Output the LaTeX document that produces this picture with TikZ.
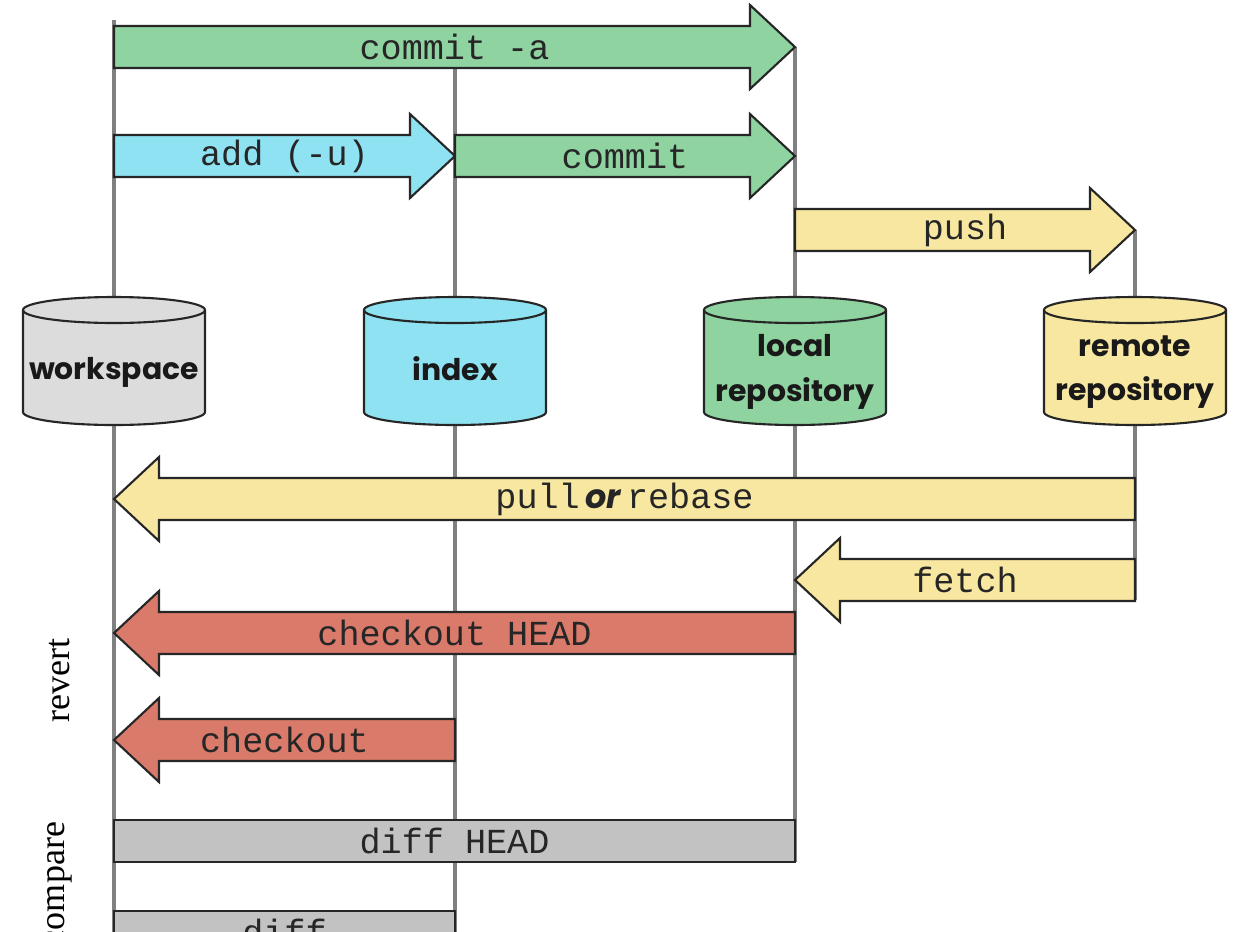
\documentclass[tikz,border=0pt]{standalone}
\usepackage{fontspec}
\setmainfont{Liberation Serif}
\setsansfont{Poppins}
\setmonofont{Liberation Mono}
\definecolor{cgreen}{HTML}{8ED3A0}
\definecolor{ccyan}{HTML}{8FE2F2}
\definecolor{cyellow}{HTML}{F8E7A0}
\definecolor{cred}{HTML}{D97A6A}
\definecolor{cgray}{HTML}{C2C2C2}
\definecolor{cws}{HTML}{DCDCDC}
\definecolor{cline}{HTML}{808080}
\tikzset{
  vline/.style={draw=cline, line width=4.5*0.02cm},
  arrowline/.style={draw=black!85, line width=1.2pt, line join=miter},
  lbl/.style={font=\fontsize{20}{24}\selectfont\ttfamily, text=black!85, inner sep=0pt},
  cyl/.style={draw=black!85, line width=1.2pt},
  cyllbl/.style={font=\fontsize{17}{25.5}\selectfont\sffamily\bfseries, text=black!90, align=center, inner sep=0pt},
  side/.style={font=\fontsize{20.5}{24}\selectfont\rmfamily, rotate=90, inner sep=0pt}
}
% right-pointing arrow: name, x start, x tip, y, fill, text
\newcommand{\arrowR}[6]{%
  \filldraw[arrowline, fill=#5] (#2,#4-21) -- (#3-45,#4-21) -- (#3-45,#4-42) -- (#3,#4)
     -- (#3-45,#4+42) -- (#3-45,#4+21) -- (#2,#4+21) -- cycle;
  \node[lbl] (#1) at ({(#2+#3)/2},#4) {#6};}
% left-pointing arrow: name, x tip, x end, y, fill, text
\newcommand{\arrowL}[6]{%
  \filldraw[arrowline, fill=#5] (#3,#4-21) -- (#2+45,#4-21) -- (#2+45,#4-42) -- (#2,#4)
     -- (#2+45,#4+42) -- (#2+45,#4+21) -- (#3,#4+21) -- cycle;
  \node[lbl] (#1) at ({(#2+#3)/2},#4) {#6};}
% cylinder: center x, fill
\newcommand{\cylshape}[2]{%
  \filldraw[cyl, fill=#2] (#1-91,310) -- (#1-91,412)
     arc[start angle=180, end angle=0, x radius=91, y radius=13]
     -- (#1+91,310)
     arc[start angle=0, end angle=-180, x radius=91, y radius=13] -- cycle;
  \draw[cyl] (#1-91,310) arc[start angle=180, end angle=0, x radius=91, y radius=13];}
\begin{document}
\begin{tikzpicture}[x=0.02cm, y=-0.02cm]
\useasboundingbox (0,0) rectangle (1248,931);
\fill[white] (0,0) rectangle (1248,931);
% lane coordinates
\coordinate (wsTop) at (114,20);   \coordinate (wsBot) at (114,940);
\coordinate (idxTop) at (455,60);  \coordinate (idxBot) at (455,940);
\coordinate (locTop) at (795,47);  \coordinate (locBot) at (795,862);
\coordinate (remTop) at (1135,230);\coordinate (remBot) at (1135,600);
\draw[vline] (wsTop) -- (wsBot);
\draw[vline] (idxTop) -- (idxBot);
\draw[vline] (locTop) -- (locBot);
\draw[vline] (remTop) -- (remBot);
% cylinders
\cylshape{114}{cws}
\cylshape{455}{ccyan}
\cylshape{795}{cgreen}
\cylshape{1135}{cyellow}
\node[cyllbl] (ws) at (114,372) {workspace};
\node[cyllbl] (idx) at (455,369) {index};
\node[cyllbl] (loc) at (795,372) {local\\repository};
\node[cyllbl] (rem) at (1135,372) {remote\\repository};
% arrows
\arrowR{commita}{114}{795}{47}{cgreen}{commit -a}
\arrowR{add}{114}{455}{156}{ccyan}{add (-u)}
\arrowR{commit}{455}{795}{156}{cgreen}{commit}
\arrowR{push}{795}{1135}{230}{cyellow}{push}
\arrowL{pull}{114}{1135}{499}{cyellow}{pull\,{\fontsize{19}{24}\sffamily\bfseries\itshape or}\,rebase}
\arrowL{fetch}{795}{1135}{580}{cyellow}{fetch}
\arrowL{cohead}{114}{795}{633}{cred}{checkout HEAD}
\arrowL{co}{114}{455}{740}{cred}{checkout}
% compare bars
\filldraw[arrowline, fill=cgray] (114,820) rectangle (795,862);
\node[lbl] (diffhead) at (454.5,841) {diff HEAD};
\filldraw[arrowline, fill=cgray] (114,911) rectangle (455,953);
\node[lbl] (diff) at (284.5,932) {diff};
% side labels
\node[side] (revert) at (60,680) {revert};
\node[side] (compare) at (60,884) {compare};
\end{tikzpicture}
\end{document}
